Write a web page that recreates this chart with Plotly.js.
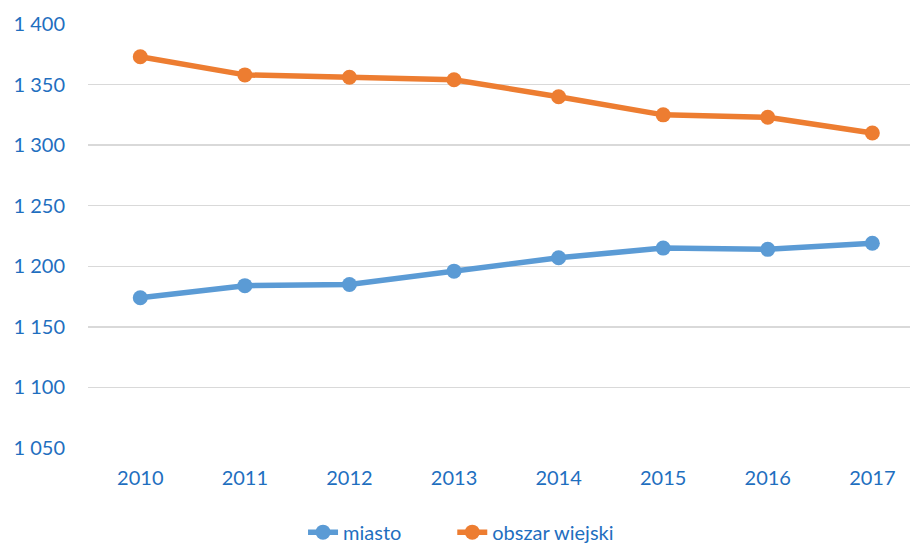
<!DOCTYPE html>
<html><head><meta charset="utf-8">
<script src="https://cdn.plot.ly/plotly-3.0.1.min.js"></script>
<style>html,body{margin:0;padding:0;background:#fff}#c{width:910px;height:543px}</style>
</head><body><div id="c"></div>
<script>
const years = ["2010","2011","2012","2013","2014","2015","2016","2017"];
const miasto = [1174, 1184, 1185, 1196, 1207, 1215, 1214, 1219];
const obszarWiejski = [1373, 1358, 1356, 1354, 1340, 1325, 1323, 1310];
const yTicks = [1050, 1100, 1150, 1200, 1250, 1300, 1350, 1400];

const xIdx = years.map((_, i) => i);
const font = {family: "Lato, 'Open Sans', sans-serif", size: 20, color: "#1F6FBF"};
const traces = [
  {x: xIdx, y: miasto, name: "miasto", mode: "lines+markers", legend: "legend",
   line: {color: "#5B9BD5", width: 5.5}, marker: {color: "#5B9BD5", size: 15}},
  {x: xIdx, y: obszarWiejski, name: "obszar wiejski", mode: "lines+markers", legend: "legend2",
   line: {color: "#ED7D31", width: 5.5}, marker: {color: "#ED7D31", size: 15}}
];
const legBase = {orientation: "h", xref: "container", yref: "container",
                 xanchor: "left", y: 0.02, yanchor: "middle", font: font};
const layout = {
  width: 910, height: 543,
  margin: {l: 88, r: 0, t: 24, b: 95},
  paper_bgcolor: "#fff", plot_bgcolor: "#fff",
  font: font,
  separators: ", ",
  showlegend: true,
  legend: Object.assign({}, legBase, {x: 0.333}),
  legend2: Object.assign({}, legBase, {x: 0.497}),
  xaxis: {range: [-0.5, 7.36], tickvals: xIdx, ticktext: years, showgrid: false,
          zeroline: false, showline: false, ticks: "", ticklabelstandoff: 16, fixedrange: true},
  yaxis: {range: [1050, 1400], tickvals: yTicks, tickformat: ",.0f", showgrid: true,
          gridcolor: "#D9D9D9", gridwidth: 1.5, zeroline: false, showline: false, ticks: "",
          ticklabelstandoff: 22, fixedrange: true}
};
Plotly.newPlot("c", traces, layout, {displayModeBar: false, staticPlot: true});
</script></body></html>
